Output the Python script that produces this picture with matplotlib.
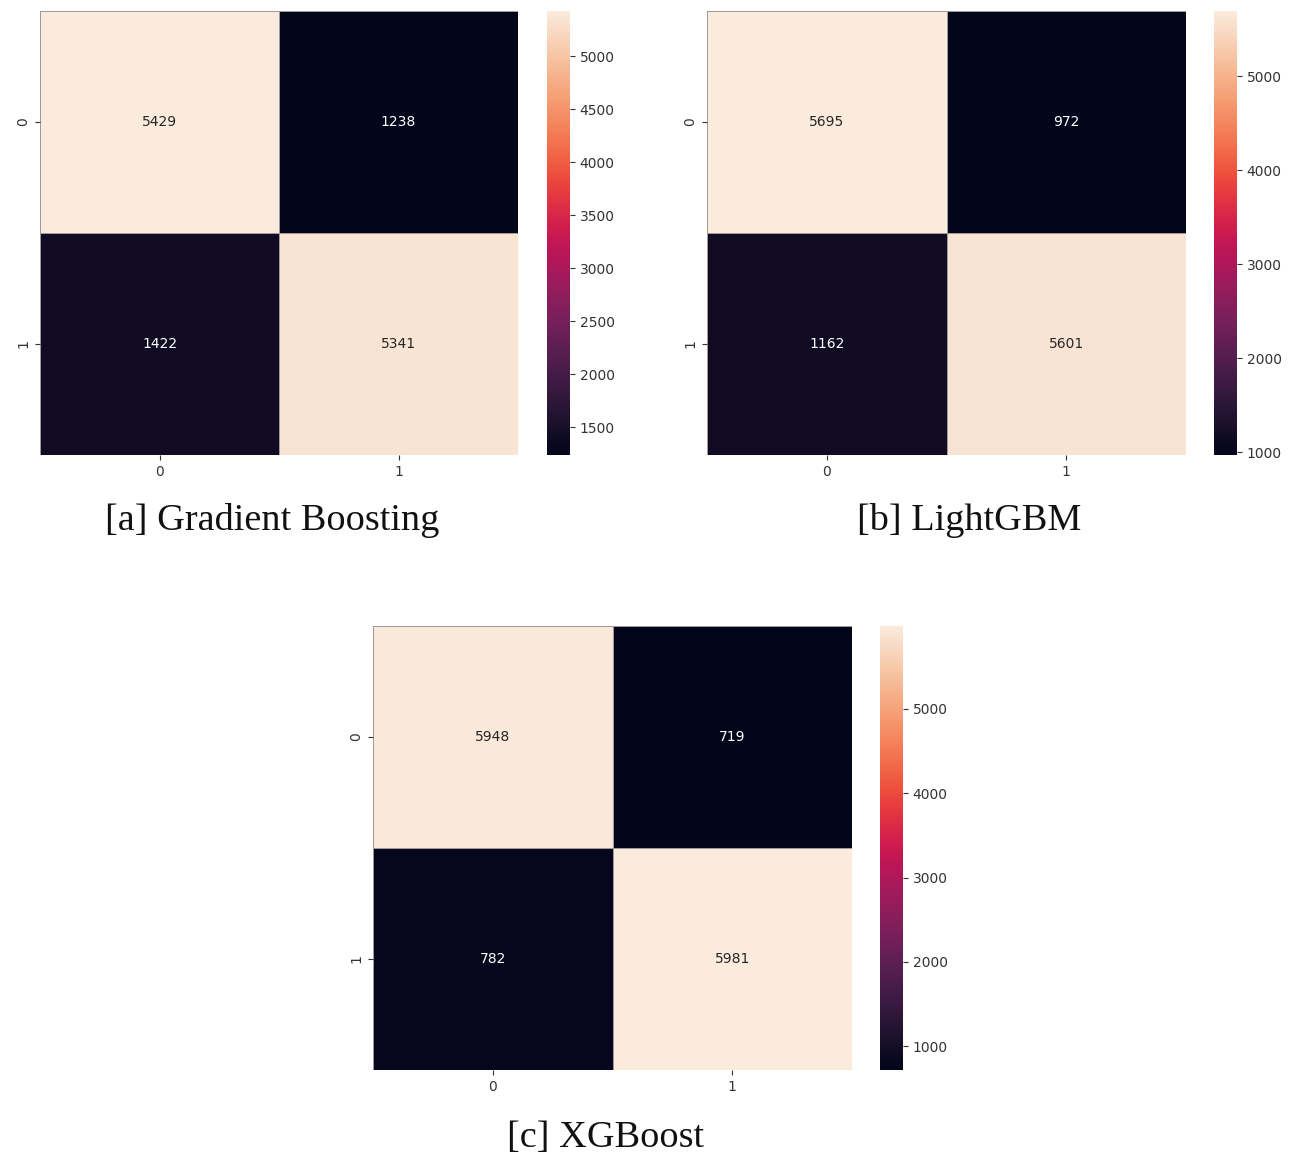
import numpy as np
import matplotlib
matplotlib.use("Agg")
import matplotlib.pyplot as plt
import seaborn as sns

# confusion matrices (rows: true class, cols: predicted class)
labels = ["0", "1"]
cm_gb = [[5429, 1238], [1422, 5341]]
cm_lgbm = [[5695, 972], [1162, 5601]]
cm_xgb = [[5948, 719], [782, 5981]]
captions = ["[a] Gradient Boosting", "[b] LightGBM", "[c] XGBoost"]

W, H = 1302, 1155
fig = plt.figure(figsize=(W / 100, H / 100), dpi=100)


def px_axes(x0, y0, x1, y1):
    return fig.add_axes([x0 / W, 1 - y1 / H, (x1 - x0) / W, (y1 - y0) / H])


panels = [
    (cm_gb, (40, 11, 518, 455), (547, 570), (272, 521)),
    (cm_lgbm, (707, 11, 1186, 455), (1214, 1237), (969, 521)),
    (cm_xgb, (373, 626, 852, 1070), (880, 903), (606, 1138)),
]

for (cm, box, cb, cap_pos), caption in zip(panels, captions):
    ax = px_axes(*box)
    cax = px_axes(cb[0], box[1], cb[1], box[3])
    sns.heatmap(np.array(cm), annot=True, fmt="d", ax=ax, cbar_ax=cax,
                xticklabels=labels, yticklabels=labels,
                linewidths=0.4, linecolor="#a09a9a",
                annot_kws={"fontsize": 10})
    ax.tick_params(labelsize=10, labelcolor="#333333", color="#333333")
    ax.set_yticklabels(labels, rotation=90, va="center")
    cax.tick_params(labelsize=10, labelcolor="#333333", color="#333333")
    fig.text(cap_pos[0] / W, 1 - cap_pos[1] / H, caption,
             ha="center", va="center", fontsize=27.5, family="Liberation Serif",
             color="#111111")

fig.savefig("out.png", dpi=100)
